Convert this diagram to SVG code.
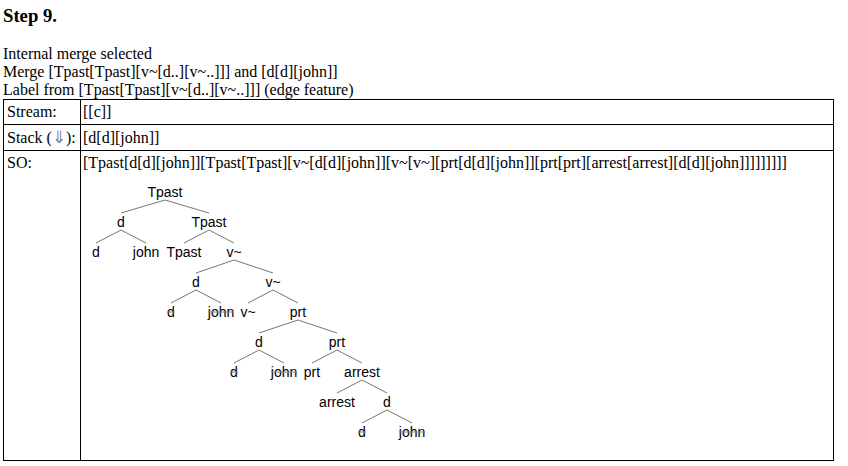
<svg xmlns="http://www.w3.org/2000/svg" width="848" height="466" viewBox="0 0 848 466">
<style>
.h{font-family:"Liberation Serif","Times New Roman",serif;font-size:18.7px;font-weight:bold;fill:#000}
.p{font-family:"Liberation Serif","Times New Roman",serif;font-size:16px;fill:#000}
.t{font-family:"Liberation Sans",Arial,sans-serif;font-size:14px;fill:#000;text-anchor:middle}
.e{stroke:#777;stroke-width:1;fill:none}
.s{stroke:#888;stroke-width:1}
.b{stroke:#000;stroke-width:1;fill:none}
</style>
<rect width="848" height="466" fill="#fff"/>
<g id="header">
<text class="h" x="3" y="22">Step 9.</text>
<text class="p" x="3" y="59">Internal merge selected</text>
<text class="p" x="3" y="77">Merge [Tpast[Tpast][v~[d..][v~..]]] and [d[d][john]]</text>
<text class="p" x="3" y="95">Label from [Tpast[Tpast][v~[d..][v~..]]] (edge feature)</text>
</g>
<g id="table">
<rect class="b" x="3.5" y="99.5" width="830" height="361"/>
<line class="b" x1="3" y1="124.5" x2="834" y2="124.5"/>
<line class="b" x1="3" y1="150.5" x2="834" y2="150.5"/>
<line class="b" x1="80.5" y1="99" x2="80.5" y2="461"/>
<text class="p" x="7" y="117">Stream:</text>
<text class="p" x="83" y="117">[[c]]</text>
<text class="p" x="7" y="143">Stack (<tspan font-family="DejaVu Sans, sans-serif" font-size="17" font-weight="200" fill="#7080a0">⇓</tspan>):</text>
<text class="p" x="83" y="143">[d[d][john]]</text>
<text class="p" x="7" y="168">SO:</text>
<text class="p" x="83" y="168">[Tpast[d[d][john]][Tpast[Tpast][v~[d[d][john]][v~[v~][prt[d[d][john]][prt[prt][arrest[arrest][d[d][john]]]]]]]]]</text>
</g>
<g id="connectors">
<line class="e" x1="165" y1="200" x2="121" y2="213"/>
<line class="e" x1="165" y1="200" x2="209" y2="213"/>
<line class="e" x1="121" y1="230" x2="96" y2="243"/>
<line class="e" x1="121" y1="230" x2="146" y2="243"/>
<line class="e" x1="209" y1="230" x2="184" y2="243"/>
<line class="e" x1="209" y1="230" x2="234" y2="243"/>
<line class="e" x1="234" y1="260" x2="196" y2="273"/>
<line class="e" x1="234" y1="260" x2="273" y2="273"/>
<line class="e" x1="196" y1="290" x2="171" y2="303"/>
<line class="e" x1="196" y1="290" x2="221" y2="303"/>
<line class="e" x1="273" y1="290" x2="248" y2="303"/>
<line class="e" x1="273" y1="290" x2="298" y2="303"/>
<line class="e" x1="298" y1="320" x2="259" y2="333"/>
<line class="e" x1="298" y1="320" x2="337" y2="333"/>
<line class="e" x1="259" y1="350" x2="234" y2="363"/>
<line class="e" x1="259" y1="350" x2="284" y2="363"/>
<line class="e" x1="337" y1="350" x2="312" y2="363"/>
<line class="e" x1="337" y1="350" x2="362" y2="363"/>
<line class="e" x1="362" y1="380" x2="337" y2="393"/>
<line class="e" x1="362" y1="380" x2="387" y2="393"/>
<line class="e" x1="387" y1="410" x2="362" y2="423"/>
<line class="e" x1="387" y1="410" x2="412" y2="423"/>
</g>
<g id="n0"><text class="t" x="165" y="197">Tpast</text></g>
<g id="n1"><text class="t" x="121" y="227">d</text></g>
<g id="n2"><text class="t" x="209" y="227">Tpast</text></g>
<g id="n3"><text class="t" x="96" y="257">d</text></g>
<g id="n4"><text class="t" x="146" y="257">john</text></g>
<g id="n5"><text class="t" x="184" y="257">Tpast</text></g>
<g id="n6"><text class="t" x="234" y="257">v~</text></g>
<g id="n7"><text class="t" x="196" y="287">d</text></g>
<g id="n8"><text class="t" x="273" y="287">v~</text></g>
<g id="n9"><text class="t" x="171" y="317">d</text><line class="s" x1="167" y1="312" x2="175" y2="312"/></g>
<g id="n10"><text class="t" x="221" y="317">john</text><line class="s" x1="208" y1="312" x2="234" y2="312"/></g>
<g id="n11"><text class="t" x="248" y="317">v~</text></g>
<g id="n12"><text class="t" x="298" y="317">prt</text></g>
<g id="n13"><text class="t" x="259" y="347">d</text></g>
<g id="n14"><text class="t" x="337" y="347">prt</text></g>
<g id="n15"><text class="t" x="234" y="377">d</text><line class="s" x1="230" y1="372" x2="238" y2="372"/></g>
<g id="n16"><text class="t" x="284" y="377">john</text><line class="s" x1="271" y1="372" x2="297" y2="372"/></g>
<g id="n17"><text class="t" x="312" y="377">prt</text></g>
<g id="n18"><text class="t" x="362" y="377">arrest</text></g>
<g id="n19"><text class="t" x="337" y="407">arrest</text></g>
<g id="n20"><text class="t" x="387" y="407">d</text></g>
<g id="n21"><text class="t" x="362" y="437">d</text><line class="s" x1="358" y1="432" x2="366" y2="432"/></g>
<g id="n22"><text class="t" x="412" y="437">john</text><line class="s" x1="399" y1="432" x2="425" y2="432"/></g>
</svg>
